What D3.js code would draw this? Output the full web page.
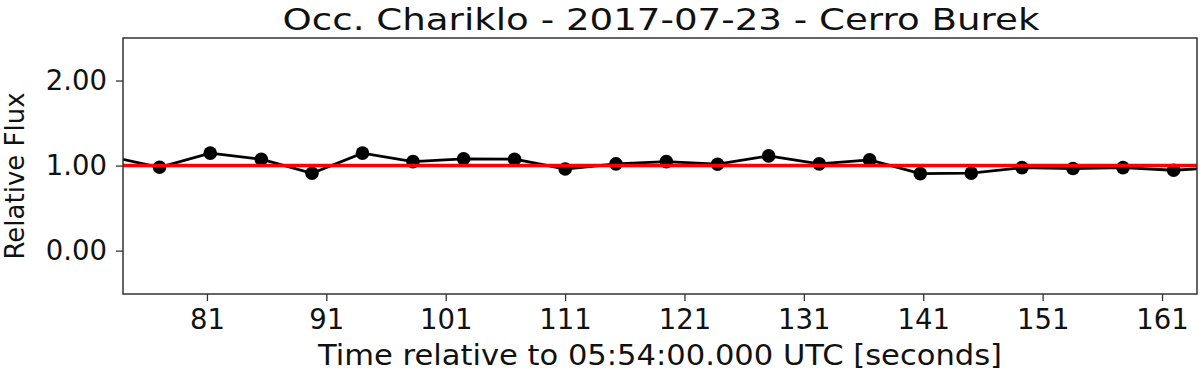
<!DOCTYPE html>
<html>
<head>
<meta charset="utf-8">
<script src="https://cdn.jsdelivr.net/npm/d3@7"></script>
<style>
  body { margin: 0; background: #fff; }
  text { font-family: "DejaVu Sans", sans-serif; fill: #111; }
</style>
</head>
<body>
<div id="chart"></div>
<script>
// time (s relative to 05:54:00.000 UTC) and relative flux
const times = [72.78, 77.03, 81.28, 85.55, 89.80, 94.03, 98.26, 102.50, 106.77, 111.01,
  115.26, 119.48, 123.77, 128.05, 132.29, 136.51, 140.75, 145.02, 149.27, 153.54,
  157.73, 161.97, 166.2];
const flux = [1.11, 0.98, 1.146, 1.075, 0.91, 1.146, 1.047, 1.079, 1.075, 0.96,
  1.02, 1.047, 1.016, 1.114, 1.02, 1.067, 0.905, 0.911, 0.976, 0.965,
  0.976, 0.945, 0.98];
const xTicks = [81, 91, 101, 111, 121, 131, 141, 151, 161];
const yTicks = [0, 1, 2];
const modelLevel = 1.0;

const width = 1200;
const height = 371;
const margin = {top: 38, right: 3, bottom: 77, left: 123};

const svg = d3.select('#chart')
  .append('svg')
  .attr('width', width)
  .attr('height', height);

const x = d3.scaleLinear()
  .domain([73.97, 163.93])
  .range([margin.left, width - margin.right]);

const y = d3.scaleLinear()
  .domain([-0.51, 2.5])
  .range([height - margin.bottom, margin.top]);

const pts = times.map((t, i) => ({t: t, f: flux[i]}));

svg.append('clipPath')
  .attr('id', 'clip')
  .append('rect')
  .attr('x', margin.left)
  .attr('y', margin.top)
  .attr('width', width - margin.left - margin.right)
  .attr('height', height - margin.top - margin.bottom);

const plot = svg.append('g').attr('clip-path', 'url(#clip)');

const line = d3.line()
  .x(d => x(d.t))
  .y(d => y(d.f));

plot.append('path')
  .datum(pts)
  .attr('d', line)
  .attr('fill', 'none')
  .attr('stroke', '#000')
  .attr('stroke-width', 2.8);

plot.selectAll('circle')
  .data(pts)
  .enter()
  .append('circle')
  .attr('cx', d => x(d.t))
  .attr('cy', d => y(d.f))
  .attr('r', 6.8)
  .attr('fill', '#000');

// model line
plot.append('line')
  .attr('x1', x.range()[0])
  .attr('x2', x.range()[1])
  .attr('y1', y(modelLevel))
  .attr('y2', y(modelLevel))
  .attr('stroke', '#ff0000')
  .attr('stroke-width', 3.4);

// axes
const xAxis = svg.append('g')
  .attr('transform', `translate(0, ${height - margin.bottom})`)
  .call(d3.axisBottom(x).tickValues(xTicks).tickFormat(d3.format('d')).tickSizeOuter(0).tickSize(7).tickPadding(8));

const yAxis = svg.append('g')
  .attr('transform', `translate(${margin.left}, 0)`)
  .call(d3.axisLeft(y).tickValues(yTicks).tickFormat(d3.format('.2f')).tickSizeOuter(0).tickSize(7).tickPadding(9));

[xAxis, yAxis].forEach(a => {
  a.select('.domain').remove();
  a.selectAll('.tick line').attr('stroke', '#333').attr('stroke-width', 1.3);
  a.selectAll('.tick text').style('font-size', '27.5px').attr('fill', '#111');
});

// frame
svg.append('rect')
  .attr('x', margin.left)
  .attr('y', margin.top)
  .attr('width', width - margin.left - margin.right)
  .attr('height', height - margin.top - margin.bottom)
  .attr('fill', 'none')
  .attr('stroke', '#333')
  .attr('stroke-width', 1.5);

svg.append('text')
  .attr('x', 661)
  .attr('y', 30)
  .attr('text-anchor', 'middle')
  .attr('textLength', 757)
  .attr('lengthAdjust', 'spacingAndGlyphs')
  .style('font-size', '31px')
  .text('Occ. Chariklo - 2017-07-23 - Cerro Burek');

svg.append('text')
  .attr('x', 660)
  .attr('y', 365)
  .attr('text-anchor', 'middle')
  .attr('textLength', 684)
  .attr('lengthAdjust', 'spacingAndGlyphs')
  .style('font-size', '29px')
  .text('Time relative to 05:54:00.000 UTC [seconds]');

svg.append('text')
  .attr('transform', `translate(24, ${(margin.top + height - margin.bottom) / 2 + 10}) rotate(-90)`)
  .attr('text-anchor', 'middle')
  .style('font-size', '26px')
  .text('Relative Flux');
</script>
</body>
</html>
